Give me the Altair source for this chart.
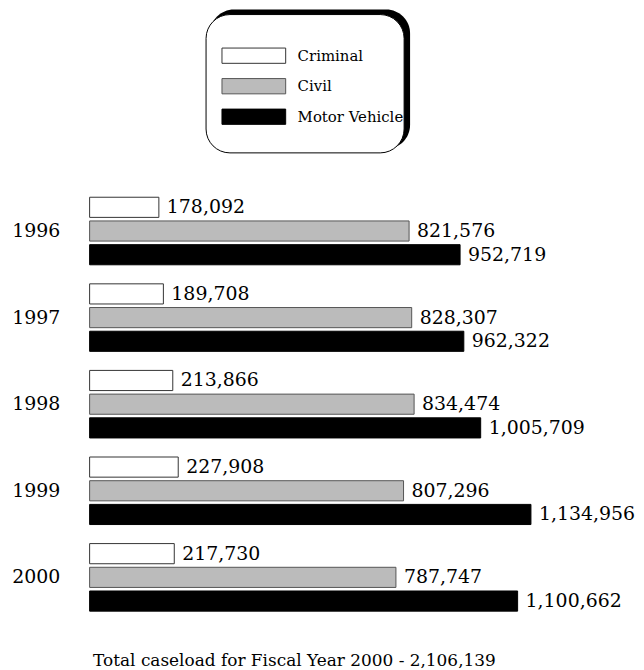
import altair as alt
import pandas as pd

years = ["1996", "1997", "1998", "1999", "2000"]
series = ["Criminal", "Civil", "Motor Vehicle"]
criminal = [178092, 189708, 213866, 227908, 217730]
civil = [821576, 828307, 834474, 807296, 787747]
motor = [952719, 962322, 1005709, 1134956, 1100662]
total_title = "Total caseload for Fiscal Year 2000 - 2,106,139"

rows = []
for i, y in enumerate(years):
    for s, vals in zip(series, [criminal, civil, motor]):
        rows.append({"year": y, "series": s, "value": vals[i]})
df = pd.DataFrame(rows)

fills = ["white", "#bbbbbb", "black"]
strokes = ["#333333", "#555555", "black"]
FONT = "DejaVu Serif"

# ---------- legend panel ----------
leg_df = pd.DataFrame({"series": series, "label": ["Criminal", "\u00a0Civil", "Motor Vehicle"]})
one = alt.InlineData(values=[{"a": 1}])
shadow = alt.Chart(one).mark_rect(color="black", cornerRadius=24).encode(
    x=alt.value(121), x2=alt.value(322), y=alt.value(0), y2=alt.value(140))
box = alt.Chart(one).mark_rect(fill="white", stroke="black", strokeWidth=1, cornerRadius=24).encode(
    x=alt.value(117), x2=alt.value(316), y=alt.value(5), y2=alt.value(144))
ly = alt.Y("series:N", axis=None,
           scale=alt.Scale(domain=series, range=[31, 123], paddingInner=0.5, paddingOuter=0.25))
sw = alt.Chart(leg_df).mark_rect(strokeWidth=1).encode(
    x=alt.value(133), x2=alt.value(197), y=ly,
    fill=alt.Fill("series:N", scale=alt.Scale(domain=series, range=fills), legend=None),
    stroke=alt.Stroke("series:N", scale=alt.Scale(domain=series, range=strokes), legend=None))
lt = alt.Chart(leg_df).mark_text(align="left", baseline="middle", font=FONT, fontSize=15, color="black").encode(
    x=alt.value(209), y=ly, text="label:N")
legend = alt.layer(shadow, box, sw, lt).properties(width=547, height=179)

# ---------- main bars ----------
base = alt.Chart(df).encode(
    y=alt.Y("year:N", sort=years,
            scale=alt.Scale(paddingInner=0.22, paddingOuter=0.11),
            axis=alt.Axis(title=None, domain=False, ticks=False, labelPadding=30,
                          labelFont=FONT, labelFontSize=19, labelColor="black",
                          minExtent=82, maxExtent=82)),
    yOffset=alt.YOffset("series:N", sort=series,
                        scale=alt.Scale(domain=series, paddingInner=0.15)),
    x=alt.X("value:Q", scale=alt.Scale(domain=[0, 1400000], nice=False),
            axis=alt.Axis(title=total_title, labels=False, ticks=False, domain=False, grid=False,
                          titleFont=FONT, titleFontSize=17, titleFontWeight="normal",
                          titleColor="black", titleX=3, titleY=45, titleAlign="left",
                          titleBaseline="alphabetic")),
)
bars = base.mark_bar(strokeWidth=1).encode(
    fill=alt.Fill("series:N", scale=alt.Scale(domain=series, range=fills), legend=None),
    stroke=alt.Stroke("series:N", scale=alt.Scale(domain=series, range=strokes), legend=None))
labels = base.mark_text(align="left", baseline="middle", dx=8, font=FONT, fontSize=19, color="black").encode(
    text=alt.Text("value:Q", format=","))
main = alt.layer(bars, labels).properties(width=547, height=435)

chart = alt.vconcat(legend, main, spacing=0).properties(padding=0).configure_view(strokeWidth=0)
chart.save("out.html", embed_options={"renderer": "svg", "actions": False})
